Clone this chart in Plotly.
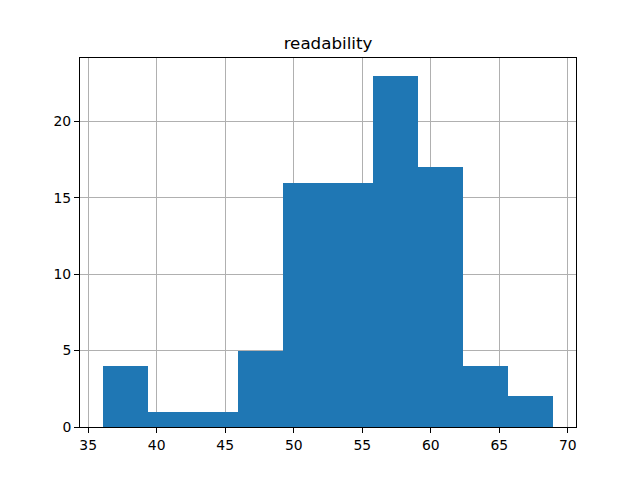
import numpy as np
import plotly.graph_objects as go

title = "readability"
data_min = 36.05
data_max = 68.95
counts = [4, 1, 1, 5, 16, 16, 23, 17, 4, 2]
x_ticks = [35, 40, 45, 50, 55, 60, 65, 70]
y_ticks = [0, 5, 10, 15, 20]

edges = np.linspace(data_min, data_max, len(counts) + 1)
centers = (edges[:-1] + edges[1:]) / 2
widths = np.diff(edges)

fig = go.Figure(go.Bar(x=centers, y=counts, width=widths,
                       marker=dict(color="#1f77b4", line=dict(width=0))))

W, H = 632, 472  # page body has an 8px margin
span = data_max - data_min
fig.update_layout(
    width=W, height=H,
    margin=dict(l=72, r=64, t=50, b=53, autoexpand=False),
    paper_bgcolor="white", plot_bgcolor="white",
    font=dict(family="DejaVu Sans", size=13.9, color="black"),
    title=dict(text=title, x=(80 + 576) / 2 / 640 * 640 / W - 8 / W, xanchor="center",
               y=1 - 35 / H, yanchor="middle",
               font=dict(size=16.7, family="DejaVu Sans", color="black")),
    showlegend=False, bargap=0,
)
axis_common = dict(showgrid=True, gridcolor="#b0b0b0", gridwidth=0.8,
                   showline=True, linecolor="black", linewidth=1, mirror=True,
                   ticks="outside", ticklen=5, tickwidth=1, tickcolor="black",
                   zeroline=False, layer="above traces", automargin=False)
fig.update_xaxes(range=[data_min - 0.05 * span, data_max + 0.05 * span],
                 tickvals=x_ticks, **axis_common)
fig.update_yaxes(range=[0, max(counts) * 1.05], tickvals=y_ticks, **axis_common)

fig.write_html("out.html")
